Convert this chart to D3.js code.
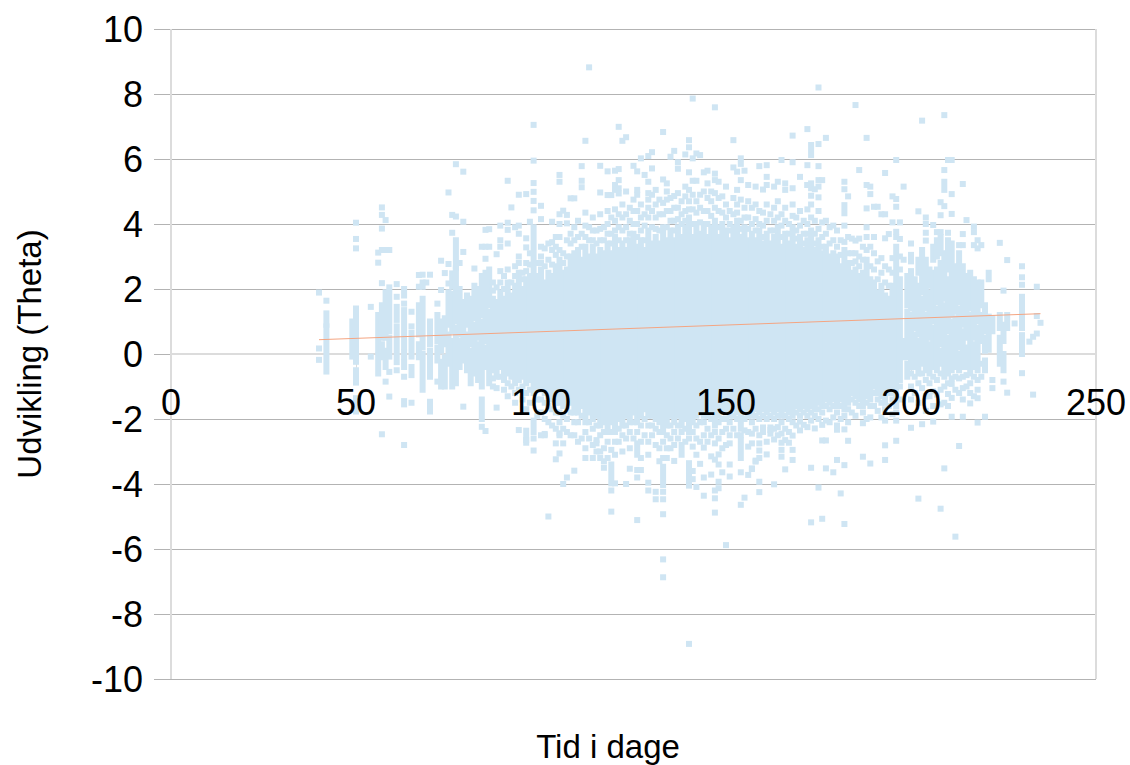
<!DOCTYPE html>
<html lang="en">
<head>
<meta charset="UTF-8" />
<title>Udvikling (Theta) over tid</title>
<script src="https://d3js.org/d3.v7.min.js"></script>
<style>
    body { margin: 0; background: #fff; }
    text { font-family: "Liberation Sans", sans-serif; fill: #000; }
    .domain { display: none; }
</style>
</head>
<body>
<svg id="chart" width="1130" height="765"></svg>
<script>
// --- Data ---
const xTicks = [0, 50, 100, 150, 200, 250];
const yTicks = [-10, -8, -6, -4, -2, 0, 2, 4, 6, 8, 10];
const fitDays = [40, 235];
const fitThetas = [0.44, 1.24];

// The middle of the cloud is solid: one top/bottom pair per day
const coreDays = d3.range(87, 198);
const coreTop = [
    1.7,1.6,1.9,1.7,2.2,1.8,2.1,2.5,2.0,2.3,
    2.4,3.9,2.4,2.6,2.2,2.5,2.4,2.7,2.9,2.5,
    2.6,3.0,3.1,3.2,2.9,3.3,3.0,3.3,3.0,3.2,
    3.1,3.4,3.1,3.6,3.2,3.4,3.2,3.5,3.7,3.3,
    3.5,3.2,3.8,3.4,3.6,3.4,3.9,3.5,3.8,3.5,
    3.9,3.6,3.9,4.2,3.6,4.0,3.7,4.0,3.6,3.9,
    4.1,3.6,4.0,3.8,3.5,3.9,4.1,3.6,3.9,3.5,
    3.7,3.5,3.8,3.4,3.7,3.4,3.6,3.9,3.3,3.7,
    3.4,3.9,3.3,3.6,3.2,3.5,3.8,3.2,3.5,3.1,
    3.3,3.0,3.1,3.0,2.7,3.2,2.8,2.5,2.6,2.4,
    2.5,2.9,2.3,2.2,1.9,2.1,1.8,1.7,2.1,3.3,
    2.3
];
const coreBottom = [
    -0.5,-0.7,-0.4,-0.8,-0.6,-0.7,-0.9,-0.8,-0.7,-0.9,
    -0.8,-1.2,-1.0,-1.1,-1.2,-1.3,-1.4,-1.5,-1.5,-1.6,
    -1.7,-1.5,-1.8,-1.8,-1.6,-2.1,-1.8,-2.0,-1.9,-2.2,
    -2.1,-2.4,-2.1,-2.4,-2.0,-2.2,-1.9,-2.1,-1.8,-2.1,
    -1.9,-1.7,-1.9,-1.9,-2.0,-2.1,-2.4,-2.2,-1.9,-2.1,
    -1.9,-2.2,-2.0,-2.4,-2.1,-1.9,-1.8,-1.9,-1.7,-1.8,
    -2.2,-1.9,-1.7,-1.8,-1.9,-1.7,-1.8,-2.3,-1.8,-1.7,
    -1.9,-1.7,-1.8,-1.7,-1.8,-1.7,-1.8,-1.7,-1.9,-1.7,
    -1.8,-1.9,-1.6,-1.7,-1.6,-1.7,-1.6,-1.7,-1.5,-1.6,
    -1.4,-1.5,-1.4,-1.6,-1.4,-1.7,-1.5,-1.2,-1.3,-1.4,
    -1.6,-1.3,-1.4,-1.0,-1.2,-1.3,-1.5,-1.0,-1.2,-1.6,
    -0.8
];

// Stacks of touching points outside the core: [day, highest, lowest]
const runs = [
    [42,1.25,0.9],[42,0.85,-0.54],[49,1.0,-0.08],[50,1.4,-0.08],[50,-0.5,-0.75],[50,-1.36,-1.77],
    [56,1.2,0.1],[56,-0.05,-0.6],[57,1.5,0.5],[57,0.3,-0.1],[58,1.9,0.5],[58,0.1,-0.4],[59,2.05,0.7],[59,0.5,-0.08],[61,1.45,1.05],[61,0.85,-0.25],
    [63,2.0,1.8],[63,1.35,0.2],[63,0.05,-0.1],[63,-0.25,-0.4],[63,-1.45,-1.55],[65,0.65,-0.08],[65,-0.4,-0.65],
    [67,1.5,0.6],[67,0.3,-0.1],[68,1.7,0.2],[68,0.0,-1.1],[70,1.0,0.3],[70,0.1,-0.7],[70,-1.47,-1.77],[72,1.2,0.4],[72,0.2,-0.2],[73,1.0,0.1],[73,-0.24,-1.0],
    [74,1.1,0.3],[74,-0.1,-1.0],[75,1.9,0.9],[75,0.6,-0.3],[76,2.48,2.07],[76,1.85,0.7],[76,0.4,-1.0],[77,3.5,2.7],[77,2.6,1.0],[77,0.8,-0.9],
    [78,2.0,0.6],[78,0.4,-0.4],[79,1.6,0.7],[79,0.5,-0.2],[80,1.8,0.9],[80,0.6,-0.5],[81,1.7,0.3],[81,0.1,-0.9],[82,2.1,1.1],[82,0.9,-0.6],[83,2.0,0.5],[83,0.3,-0.8],
    [84,2.4,1.2],[84,1.0,-1.0],[84,-1.4,-2.0],[85,2.5,0.4],[85,0.2,-0.4],[86,2.6,1.5],[86,1.3,-0.9],[96,-2.36,-2.73],[98,-2.05,-2.4],
    [133,-3.47,-4.03],[119,-3.4,-3.98],[140,-3.36,-4.05],[154,-2.65,-3.2],[138,-2.8,-3.1],[126,-2.75,-3.1],
    [173,6.43,6.12],[182,4.58,4.33],[209,5.3,5.05],
    [198,0.4,-0.1],[199,2.4,1.5],[199,1.3,-0.1],[199,-0.3,-0.7],
    [200,3.05,2.85],[200,2.55,1.4],[200,1.2,-0.4],[201,2.3,0.8],[201,0.6,-0.4],[202,2.9,2.5],[202,2.1,0.6],[202,0.4,-0.6],[203,3.2,1.9],[203,1.7,-0.3],[204,2.9,1.4],[204,1.2,-0.5],
    [205,2.6,2.1],[205,1.9,0.5],[205,0.3,-0.6],[206,3.3,2.9],[206,2.5,1.0],[206,0.8,-0.4],[207,3.5,3.0],[207,2.6,1.6],[207,1.4,-0.5],[208,3.6,3.1],[208,2.8,0.3],[208,0.1,-0.3],
    [209,3.1,1.7],[209,1.5,-0.7],[210,3.5,2.6],[210,2.3,0.7],[210,0.5,-0.6],[211,3.4,1.2],[211,1.0,-0.5],[212,2.7,1.3],[212,1.1,-0.4],[213,3.1,1.6],[213,1.4,0.2],[213,0.0,-0.5],
    [214,2.7,0.9],[214,0.7,-0.4],[215,2.4,0.5],[215,0.2,-0.4],[216,2.5,1.4],[216,1.2,-0.6],[217,2.3,0.5],[217,0.3,-0.4],[218,2.2,1.0],[218,0.8,-0.5],
    [219,2.2,1.5],[219,1.2,0.4],[220,1.5,0.7],[220,0.5,0.1],[220,-0.2,-0.5],[221,2.5,2.3],[221,1.15,0.13],[222,1.1,0.7],
    [224,1.2,0.8],[224,0.5,-0.3],[225,0.9,0.4],[225,0.0,-0.5],[226,1.2,0.8],[230,1.76,1.2],[230,1.1,0.8],[230,0.58,0.0]
];

// Points standing on their own: [day, theta, theta, ...]
const spots = [
    [40,1.89,0.17,-0.18],[42,1.64],[50,4.04,3.54,3.25,-0.24,-0.88],[54,1.45,-0.08],
    [56,3.12,2.81],[57,4.51,4.28,3.86,3.2,2.18,-2.47],[58,4.12,3.2,-0.85],[59,3.2,-0.55,-1.31],
    [61,2.15,1.76,-0.5],[63,1.55,-0.7,-2.8],[65,1.3,0.85,-1.5],[67,2.43,2.07],[68,2.44,2.2,2.07],[69,2.2],
    [70,2.44],[72,1.55,-0.85],[73,2.87,1.97],[74,2.49],[75,4.97,2.77,2.17],[76,4.28,3.73],
    [77,5.84,4.23,2.64],[78,2.8],[79,5.61,4.07,3.14,-1.62],[82,2.63],[84,3.3,-2.24],[85,3.82,3.3,2.93,-2.37],
    [86,3.84,3.3],[88,3.07,-1.65],[89,3.95,3.5,3.3],[91,5.33,4.04,3.82,3.4],[92,4.51],[93,3.9],[94,4.9,3.95,3.7,-2.34],
    [96,4.92,3.56,3.28,-2.65],[97,4.07],[98,7.05,5.95,5.26,4.99,4.71,4.42,-2.6,-2.97],[100,4.56,4.15,-2.5],[101,-2.46,-2.5],
    [102,-5],[103,4.07,3.44],[104,3.6,-2.75,-3.24],[105,5.51,5.3,4.3,4.0,-2.44,-2.5,-3.06],[106,4.41,-2.75,-4],
    [107,4.28,4.02,-3.8],[108,4.79],[109,4.79,-3.59],[111,5.78,5.33,5.13],[112,6.56,-3.2],[113,8.82],[114,-3.2],
    [115,-2.65,-3],[116,5.79,4.97,-3.2],[117,-3.3,-3.5],[118,5.62,4.89],[119,4.89,-4.2,-4.85],[120,5.64,5.2,5.05,-3.98],
    [121,6.99,5.69,5.35,5.1,4.94],[122,6.56],[123,6.67,5.0,-4],[124,-3.53],[125,5.79],[126,5.62,5.05,4.9,-3.57,-3.8,-5.11],
    [127,6.02,-3.2,-3.57],[128,5.51],[129,6.09,5.3,4.95,4.75,-3.96,-4.2],[130,6.21,5.71],[131,5.05,-4.24,-4.47],
    [133,6.83,5.37,-4.24,-4.47,-4.93,-6.32,-6.87],[134,5.25,5.0,4.75,-3.2],[135,6.07,-2.9],[136,6.25,4.86,-3.29],
    [137,5.9,5.7],[139,6.14,5.15],[140,6.58,6.36,5.59,-8.92],[141,7.86,6.02,5.33,-3.6,-3.85],[142,6.17,5.33,-4.09],[143,6.12,-3.38],
    [144,5.59,-2.88,-3.8,-4.36],[145,5.64,5.25],[146,5.0,-3.15,-3.71],[147,7.59,5.55,5.35,-3.25,-4.2,-4.44,-4.88],
    [148,5.3,-3.09,-3.4,-3.93,-4.13],[149,-3.64],[150,5.15,-5.88],[151,-2.5,-2.75,-3.4,-3.77],[152,6.58,5.74],[153,5.61,5.05],
    [154,6.02,5.85,5.35,-3.64,-4.64],[155,5.64,-4.42],[156,5.2,-3.72],[157,-2.75,-3.52,-3.54],[158,5.15,-3.28,-3.31],
    [159,5.78,-2.75,-2.97,-3.2,-3.93,-4.25],[160,5.06,-2.26],[161,5.81,5.45,5.2,-2.7,-3.09],[162,-2.26,-2.34],[163,5.15,-2.63,-4.01],
    [164,5.3,-2.5],[165,5.97,-2.73,-2.95,-3.16],[166,5.25,5.05,-3.55],[167,-2.73],[168,6.72,5.9,5.1,-2.51,-2.95,-3.26],
    [170,5.45,-2.08],[171,-2.18],[172,6.92,5.81,5.2,5.2],[173,5.25,5.1,4.87,-2.05,-3.5,-5.18],[174,5.07,-2.29],
    [175,8.2,6.46,5.78,5.35,5.15,4.82,-4.11],[176,5.35,-2.18,-2.66,-5.07],[177,6.65,-2.66,-3.52],[179,-3.64],[180,-2.2,-2.33,-3.26],
    [181,-4.29],[182,5.3,5.07,-2.32,-3.42,-5.23],[183,4.85,-2.67],[185,7.66,3.49],[186,5.66],[187,-2.13,-3.16],
    [188,6.65,5.2,4.48,3.6],[189,5.15,4.92,-3.37],[190,4.53,3.6],[191,4.53],[192,4.3],[193,5.57,4.3,3.56,-2.05,-2.81,-3.26],
    [194,3.69],[195,4.85,4.05],[196,5.97,4.77,4.53,3.76,-2.05,-2.67],[197,4.05,3.54],[198,5.15,2.9],[200,3.4,-2.27],
    [202,4.39,-4.45],[203,7.18,-2.16],[204,4.2,4.0,3.73,3.49],[206,3.97,-2.08],[207,3.75],[208,4.67,4.27,3.75,-4.76],
    [209,7.35,5.66,4.55,-3.52],[210,5.97,3.73,-1.23],[211,5.97,4.92,4.31,-0.92,-1.93],[212,-5.62],[213,3.35,-2.83],
    [214,5.23,3.69,3.35,-1.05,-1.93],[215,4.12],[216,-1.52],[217,3.92,3.75,3.35],[218,3.5,3.25,-1.36,-2.11],[219,3.35],
    [220,-1.93],[222,-0.8,-1.05],[224,3.42],[225,1.95,-0.85],[226,2.89,-1.19],[228,0.94],[230,2.7,2.36,2.13,-0.59],
    [232,0.38],[233,0.53,-1.25],[234,2.07,1.17,0.63],[235,0.96]
];

// Broken-up edge of the core, above and below: [day, theta, theta, ...]
const fringe = [
    [87,2.2,1.95,-0.75,-1.0],[88,2.05,-1.05],[89,2.55,2.2,-0.7],[90,2.4,2.0,-1.1],[91,2.6,-0.9,-1.3],[92,2.2,-1.0],[93,2.7,2.4,-1.2,-1.5],
    [94,3.0,2.8,-1.1],[95,2.5,2.3,-1.0,-1.4],[96,2.8,2.55,-1.2,-1.7],[97,3.1,2.75,-1.1,-1.5],[99,2.8,-1.4,-1.9],
    [100,3.3,3.0,2.8,-1.4,-1.8],[101,2.7,3.25,-1.5,-2.0],[102,3.4,2.9,-1.6,-2.1],[103,3.2,2.75,-1.7,-2.2],[104,3.3,3.05,-1.8,-2.3],
    [105,3.6,3.2,-1.8,-2.1],[106,3.1,2.8,-1.9,-2.3],[107,3.5,3.0,-2.0,-2.4],[108,3.7,3.4,-1.8,-2.5],[109,3.9,3.5,-2.1,-2.5],
    [110,4.1,3.6,-2.1,-2.7],[111,3.7,3.3,-1.9,-2.6],[112,4.35,3.95,3.6,-2.4,-2.9],[113,3.9,3.5,-2.1,-2.6],[114,4.2,3.8,3.5,-2.3,-2.8],
    [115,3.8,3.4,-2.2,-2.75],[116,4.3,3.85,3.5,-2.5,-3.0],[117,3.9,3.5,-2.4,-2.9],[118,4.4,4.0,3.7,-2.7,-3.2],[119,4.2,3.7,3.4,-2.4,-2.95],
    [120,4.45,4.1,3.8,-2.7,-3.1],[121,4.3,3.9,3.5,-2.3,-2.7],[122,4.6,4.2,3.8,-2.5,-3.0],[123,4.3,3.9,3.5,-2.2,-2.6],[124,4.5,4.1,3.7,-2.4,-2.9],
    [125,4.75,4.4,4.0,-2.1,-2.6],[126,4.4,4.0,3.6,-2.4],[127,4.6,4.2,3.8,-2.2,-2.7],[128,4.3,3.95,3.5,-2.0,-2.5],[129,4.5,4.2,-2.2,-2.7,-3.1],
    [130,4.9,4.4,3.9,-2.2,-2.5],[131,4.6,4.2,3.85,-2.3,-2.8],[132,4.75,4.3,3.8,-2.4,-2.9,-3.3],[133,4.65,4.3,-2.7,-3.2],[134,4.4,3.9,-2.5,-2.9],
    [135,4.8,4.4,4.1,-2.2,-2.6],[136,4.5,4.1,3.8,-2.4,-2.8],[137,4.95,4.5,4.15,-2.2,-2.6],[138,4.7,4.3,4.0,-2.4],[139,4.85,4.4,4.1,-2.3,-2.7],
    [140,5.05,4.7,4.45,-2.6],[141,4.9,4.45,4.0,-2.4,-2.85],[142,4.7,4.35,-2.2,-2.6,-3.1],[143,4.9,4.5,4.05,-2.1,-2.7],[144,5.0,4.4,-2.1,-2.5],
    [145,4.8,4.4,4.0,-1.9,-2.3,-2.7],[146,4.7,4.25,-2.0,-2.5],[147,4.95,4.5,-2.4,-2.75],[148,4.8,4.4,3.9,-2.1,-2.6],[149,4.85,4.35,-2.0,-2.4,-2.9],
    [150,4.6,4.2,-2.0,-2.3,-2.8],[151,4.4,4.0,3.8,-2.1],[152,4.8,4.3,-1.9,-2.3],[153,4.6,4.35,-2.0,-2.5],[154,4.75,4.1,3.85,-2.5],
    [155,4.5,4.2,-2.0,-2.35],[156,4.7,4.2,3.85,-1.9,-2.4,-2.85],[157,4.5,4.0,-2.1,-2.45],[158,4.6,4.15,3.8,-1.9,-2.3],[159,4.4,4.0,-2.0,-2.5],
    [160,4.35,3.95,3.6,-1.9,-2.4],[161,4.6,4.1,-2.0],[162,4.3,3.8,-1.9,-2.45],[163,4.5,4.1,3.8,-2.0,-2.3],[164,4.7,4.2,-1.9,-2.25],
    [165,4.3,3.95,3.6,-2.1,-2.45],[166,4.5,4.1,-1.9,-2.3,-2.65],[167,4.0,3.7,-2.0,-2.4],[168,4.6,4.25,-2.1],[169,4.2,3.8,3.55,-1.8,-2.2],
    [170,4.4,3.95,-1.9,-2.35],[171,4.1,3.7,3.4,-1.8],[172,4.45,4.0,3.7,-1.9,-2.25],[173,4.6,4.2,-1.8],[174,4.1,3.7,3.4,-1.9],
    [175,4.4,3.85,-1.7,-2.0],[176,4.05,3.6,3.3,-1.8],[177,4.1,3.7,-1.6,-2.05],[178,3.9,3.4,-1.7,-2.1],[179,3.95,3.5,-1.6,-1.95],
    [180,3.8,3.3,-1.8],[181,3.5,3.05,-1.6,-2.0],[182,3.95,3.45,-1.9],[183,3.6,3.1,-1.7,-2.1],[184,3.55,3.1,2.8,-1.4,-1.8],
    [185,3.1,2.85,-1.5,-1.9],[186,3.55,3.0,2.7,-1.6],[187,3.3,2.9,-1.8],[188,3.9,3.2,-1.5,-2.0],[189,3.3,2.7,-1.6,-1.95],
    [190,3.1,2.6,-1.2,-1.6],[191,2.85,2.3,-1.4,-1.75],[192,2.95,2.5,-1.5,-1.95],[193,2.7,2.2,-1.7],[194,2.6,2.1,-1.2,-1.6],
    [195,2.95,2.5,-1.4,-1.85],[196,3.6,-1.8],[197,3.0,2.6,-1.0,-1.4],
    [200,-0.6,-1.0,-1.4],[201,-0.7,-1.2],[202,-0.9,-1.5],[203,-0.6,-1.05],[204,-0.8,-1.3,-1.75],[205,-0.9,-1.3],[206,-0.7,-1.15,-1.6],
    [207,-0.8,-1.25],[208,-0.6,-1.1,-1.55],[209,-1.0,-1.5],[210,-0.9,-1.6],[211,-0.75,-1.35],[212,-0.7,-1.1],[213,-0.75,-1.2],[214,-0.7,-1.4],
    [215,-0.65,-1.0],[216,-0.9,-1.2],[217,-0.7,-1.3],[218,-0.8,-1.1],[219,-0.3,-0.7]
];

// --- Scales and axes ---
const svg = d3.select("#chart");
const x = d3.scaleLinear().domain([0, 250]).range([171, 1096]);
const y = d3.scaleLinear().domain([-10, 10]).range([679, 29]);
const markSize = 6;
const markColor = "#cfe5f3";

// Horizontal grid, with ticks poking out on the left
const grid = svg.append("g").attr("transform", "translate(171,0)")
    .call(d3.axisLeft(y).tickValues(yTicks).tickSize(17).tickFormat(""));
grid.selectAll(".tick line").attr("stroke", "#b3b3b3");
grid.selectAll(".tick").append("line")
    .attr("x2", x(250) - x(0)).attr("stroke", "#b3b3b3");

// Frame lines are lighter than the grid
svg.append("line").attr("x1", x(0)).attr("x2", x(0)).attr("y1", y(10)).attr("y2", y(-10))
    .attr("stroke", "#dcdcdc").attr("stroke-width", 2);
svg.append("line").attr("x1", x(250)).attr("x2", x(250)).attr("y1", y(10)).attr("y2", y(-10))
    .attr("stroke", "#dcdcdc").attr("stroke-width", 2);
svg.append("line").attr("x1", x(0)).attr("x2", x(250)).attr("y1", y(0)).attr("y2", y(0))
    .attr("stroke", "#dcdcdc").attr("stroke-width", 2);

const xTickMarks = svg.append("g").attr("transform", `translate(0,${y(0)})`)
    .call(d3.axisBottom(x).tickValues(xTicks).tickSize(17).tickFormat(""));
xTickMarks.selectAll(".tick line").attr("stroke", "#dcdcdc");

// --- Marks ---
const marks = svg.append("g").attr("fill", markColor);

marks.selectAll("rect.core")
    .data(coreDays)
    .join("rect")
    .attr("class", "core")
    .attr("x", d => x(d) - markSize / 2)
    .attr("width", markSize)
    .attr("y", (d, i) => y(coreTop[i]) - markSize / 2)
    .attr("height", (d, i) => y(coreBottom[i]) - y(coreTop[i]) + markSize);

marks.selectAll("rect.run")
    .data(runs)
    .join("rect")
    .attr("class", "run")
    .attr("x", d => x(d[0]) - markSize / 2)
    .attr("width", markSize)
    .attr("y", d => y(d[1]) - markSize / 2)
    .attr("height", d => y(d[2]) - y(d[1]) + markSize);

const spotPoints = spots.concat(fringe)
    .flatMap(row => row.slice(1).map(theta => [row[0], theta]));
marks.selectAll("rect.spot")
    .data(spotPoints)
    .join("rect")
    .attr("class", "spot")
    .attr("x", d => x(d[0]) - markSize / 2)
    .attr("y", d => y(d[1]) - markSize / 2)
    .attr("width", markSize)
    .attr("height", markSize);

// Trend line
const fitLine = d3.line().x(d => x(d[0])).y(d => y(d[1]));
svg.append("path")
    .attr("d", fitLine(d3.zip(fitDays, fitThetas)))
    .attr("fill", "none")
    .attr("stroke", "#f4a582")
    .attr("stroke-width", 1);

// --- Labels go on top of the marks ---
svg.append("g").selectAll("text")
    .data(yTicks)
    .join("text")
    .attr("x", 143)
    .attr("y", d => y(d))
    .attr("dy", "0.36em")
    .attr("text-anchor", "end")
    .attr("font-size", 36)
    .text(d => d);

svg.append("g").selectAll("text")
    .data(xTicks)
    .join("text")
    .attr("x", d => x(d))
    .attr("y", 415)
    .attr("text-anchor", "middle")
    .attr("font-size", 36)
    .text(d => d);

svg.append("text")
    .attr("x", 608).attr("y", 758)
    .attr("text-anchor", "middle")
    .attr("font-size", 33)
    .text("Tid i dage");

svg.append("text")
    .attr("transform", "translate(41,354) rotate(-90)")
    .attr("text-anchor", "middle")
    .attr("font-size", 33)
    .text("Udvikling (Theta)");
</script>
</body>
</html>
